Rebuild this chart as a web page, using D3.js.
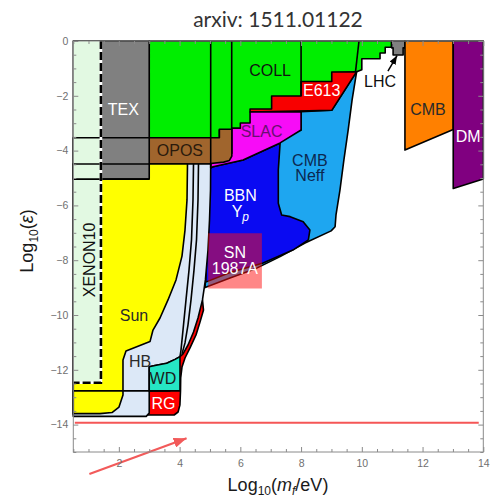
<!DOCTYPE html>
<html>
<head>
<meta charset="utf-8">
<script src="https://cdn.jsdelivr.net/npm/d3@7"></script>
<style>
  body { margin: 0; background: #fff; }
  svg { display: block; }
</style>
</head>
<body>
<div class="container"></div>
<script>
const w = 496;
const h = 500;
const margin = { top: 41, right: 12.7, bottom: 48, left: 73.3 };
const width = w - margin.left - margin.right;
const height = h - margin.top - margin.bottom;

// ticks
const xTickValues = [2, 4, 6, 8, 10, 12, 14];
const yTickValues = [0, -2, -4, -6, -8, -10, -12, -14];

// excluded regions, points are [log10(m/eV), log10(eps)]
const xenon10 = [[0.5, 0], [1.41, 0], [1.41, -12.47], [0.5, -12.47]];
const xenonEdge = [[1.41, 0], [1.41, -12.47], [0.5, -12.47]];
const tex = [[0.5, 0], [3.0, 0], [3.0, -5.04], [0.5, -5.04]];
const coll = [[3.0, 0], [10.98, 0], [10.98, -0.23], [10.77, -0.23], [10.77, -0.44], [10.6, -0.44], [10.6, -0.65],
  [10.0, -0.65], [10.0, -1.05], [9.83, -1.12], [9.01, -2.53], [8.0, -2.58], [8.0, -3.25], [5.31, -3.25],
  [5.31, -3.53], [3.0, -3.53]];
const cmbNeff = [[8.0, -2.58], [9.01, -2.53], [9.83, -1.12], [9.68, -2.15], [9.55, -3.25], [9.41, -4.34],
  [9.28, -5.44], [9.15, -6.35], [9.12, -6.78], [8.99, -6.93], [8.13, -7.37], [7.31, -7.87], [6.54, -8.29],
  [5.66, -8.65], [4.84, -9.0], [5.0, -4.64], [8.0, -3.25]];
const bbn = [[5.0, -4.64], [5.1, -4.59], [6.09, -4.34], [7.31, -3.72], [7.25, -4.71], [7.25, -5.92], [7.36, -6.35],
  [7.64, -6.41], [8.07, -6.6], [8.29, -6.9], [8.24, -7.26], [7.73, -7.63], [6.75, -8.1], [5.66, -8.45],
  [4.86, -8.8], [4.9, -7.6], [4.95, -6.5], [4.98, -5.4]];
const e613 = [[6.32, -2.48], [7.03, -2.48], [7.03, -2.01], [8.0, -2.01], [8.0, -1.48], [9.01, -1.48], [9.01, -1.13],
  [9.83, -1.12], [9.01, -2.53], [6.32, -2.59]];
const slac = [[5.72, -3.18], [6.0, -3.18], [6.0, -2.99], [6.32, -2.99], [6.32, -2.59], [8.0, -2.58], [8.0, -3.25],
  [7.31, -3.72], [6.09, -4.34], [5.1, -4.59], [5.02, -4.64], [5.02, -4.46], [5.72, -4.1]];
const opos = [[0.5, -3.53], [5.31, -3.53], [5.31, -3.22], [5.72, -3.22], [5.72, -4.2], [5.64, -4.36], [5.45, -4.42],
  [5.02, -4.47], [5.02, -4.49], [0.5, -4.49]];
const rg = [[0.5, -12.77], [3.68, -12.77], [3.9, -11.3], [4.5, -9.6], [4.753, -9.45], [4.787, -9.82], [4.672, -10.26],
  [4.54, -10.73], [4.343, -11.2], [4.178, -11.57], [4.079, -11.9], [4.036, -12.3], [4.03, -12.77], [4.01, -13.29],
  [3.95, -13.54], [3.82, -13.65], [0.5, -13.65]];
const hb = [[0.5, -13.7], [2.9, -13.7], [3.0, -13.58], [3.0, -11.89], [3.19, -11.84], [3.575, -11.76], [3.85, -11.62],
  [4.013, -11.52], [4.112, -11.42], [4.277, -11.095], [4.458, -10.62], [4.606, -10.11], [4.753, -9.45],
  [4.85, -8.72], [4.935, -7.63], [4.985, -6.53], [5.018, -5.44], [5.024, -4.49], [0.5, -4.49]];
const wd = [[3.0, -12.77], [4.013, -12.77], [4.013, -11.52], [3.85, -11.62], [3.575, -11.76], [3.19, -11.84], [3.0, -11.89]];
const sun = [[0.5, -4.49], [4.26, -4.49], [4.244, -5.8], [4.178, -6.9], [4.079, -7.85], [3.882, -8.72], [3.618, -9.45],
  [3.355, -10.11], [3.124, -10.55], [3.026, -10.97], [2.235, -11.31], [2.136, -11.64], [2.136, -12.92],
  [2.005, -13.36], [1.774, -13.56], [1.379, -13.6], [0.5, -13.6]];
const lhc = [[10.98, 0], [10.98, -0.25], [11.03, -0.25], [11.03, -0.51], [11.36, -0.51], [11.36, -0.25], [11.42, -0.25], [11.42, 0]];
const cmb = [[11.42, 0], [13.01, 0], [13.01, -3.23], [11.42, -3.98]];
const dm = [[13.01, 0], [14, 0], [14, -5.04], [13.01, -5.38]];
const sn = [[4.94, -7.02], [6.71, -7.02], [6.71, -9.03], [4.94, -9.03]];

const hbLine1 = [[4.458, -4.49], [4.441, -5.8], [4.392, -7.26], [4.31, -8.36], [4.211, -9.45], [4.112, -10.55], [4.046, -11.28], [4.013, -11.52]];
const hbLine2 = [[4.622, -4.49], [4.606, -5.8], [4.557, -7.26], [4.474, -8.36], [4.376, -9.45], [4.277, -10.36], [4.178, -11.02], [4.079, -11.42]];
const edgeLines = [
  [[0.5, -3.53], [3.0, -3.53]],
  [[0.5, -4.49], [3.0, -4.49]],
  [[0.5, -5.04], [3.0, -5.04]],
  [[0.5, -12.77], [3.0, -12.77]],
  [[5.024, 0], [5.024, -4.64]],
  [[5.716, 0], [5.716, -3.18]],
  [[8.0, 0], [8.0, -2.01]],
  [[9.907, 0], [9.792, -1.13]]
];

const redLine = [[0.55, -13.93], [13.85, -13.93]];
const redArrow = [[1.03, -15.8], [4.23, -14.5]];
const lhcArrow = [[10.86, -1.1], [11.16, -0.53]];

const labels = [
  { t: "TEX", at: [2.15, -2.49], c: "#fff" },
  { t: "COLL", at: [6.98, -1.05], c: "#111" },
  { t: "E613", at: [8.68, -1.8], c: "#fff" },
  { t: "SLAC", at: [6.7, -3.31], c: "#6a0f70" },
  { t: "OPOS", at: [4.01, -4.0], c: "#2a1a0c" },
  { t: "LHC", at: [10.6, -1.48], c: "#111" },
  { t: "CMB", at: [12.18, -2.48], c: "#2a2a2a" },
  { t: "DM", at: [13.5, -3.49], c: "#fff" },
  { t: "Sun", at: [2.5, -10.02], c: "#2a2a2a" },
  { t: "HB", at: [2.7, -11.68], c: "#2a2a2a" },
  { t: "WD", at: [3.45, -12.3], c: "#1a1a1a" },
  { t: "RG", at: [3.47, -13.22], c: "#fff" },
  { t: "BBN", at: [6.0, -5.62], c: "#fff" },
  { t: "CMB", at: [8.29, -4.34], c: "#0c2850" },
  { t: "Neff", at: [8.29, -4.91], c: "#0c2850" },
  { t: "SN", at: [5.82, -7.7], c: "#fff" },
  { t: "1987A", at: [5.82, -8.3], c: "#fff" }
];

const regions = [
  { pts: coll, fill: "#00ee00" },
  { pts: cmbNeff, fill: "#1ea6f0" },
  { pts: bbn, fill: "#0a0af2" },
  { pts: e613, fill: "#f80000" },
  { pts: slac, fill: "#f70cf7" },
  { pts: opos, fill: "#a0652d" },
  { pts: rg, fill: "#ff0000" },
  { pts: hb, fill: "#dce8f7" },
  { pts: wd, fill: "#26e6c4" },
  { pts: sun, fill: "#ffff00" },
  { pts: tex, fill: "#808080" },
  { pts: xenon10, fill: "#e2f9e2", stroke: "none" },
  { pts: lhc, fill: "#808080" },
  { pts: cmb, fill: "#ff8000" },
  { pts: dm, fill: "#800080" }
];

const font = "'Liberation Sans', Arial, sans-serif";

const svg = d3.select('.container').append('svg')
  .attr('width', w)
  .attr('height', h);

const defs = svg.append("defs");
defs.append("marker")
  .attr("id", "headRed")
  .attr("viewBox", "0 0 13 10")
  .attr("refX", 13).attr("refY", 5)
  .attr("markerWidth", 13).attr("markerHeight", 10)
  .attr("markerUnits", "userSpaceOnUse")
  .attr("orient", "auto")
  .append("path").attr("d", "M0,0L13,5L0,10Z").attr("fill", "#f25a5a");
defs.append("marker")
  .attr("id", "headBlack")
  .attr("viewBox", "0 0 9 7")
  .attr("refX", 9).attr("refY", 3.5)
  .attr("markerWidth", 9).attr("markerHeight", 7)
  .attr("markerUnits", "userSpaceOnUse")
  .attr("orient", "auto")
  .append("path").attr("d", "M0,0L9,3.5L0,7Z").attr("fill", "#000");

const chart = svg.append('g')
  .attr('transform', `translate(${margin.left}, ${margin.top})`);

const x = d3.scaleLinear().domain([0.5, 14]).range([0, width]);
const y = d3.scaleLinear().domain([-15, 0]).range([height, 0]);

const line = d3.line().x(d => x(d[0])).y(d => y(d[1]));

chart.append("g")
  .selectAll("path")
  .data(regions)
  .enter().append("path")
    .attr("d", d => line(d.pts) + "Z")
    .attr("fill", d => d.fill)
    .attr("stroke", d => d.stroke || "#000")
    .attr("stroke-width", 1.6)
    .attr("stroke-linejoin", "round");

chart.append("g")
  .selectAll("path")
  .data([hbLine1, hbLine2].concat(edgeLines))
  .enter().append("path")
    .attr("d", line)
    .attr("fill", "none")
    .attr("stroke", "#000")
    .attr("stroke-width", 1.6);

// SN 1987A, see-through
chart.append("path")
  .attr("d", line(sn) + "Z")
  .attr("fill", "#ff1010")
  .attr("fill-opacity", 0.5);

// XENON10 dashed edge
chart.append("path")
  .attr("d", line(xenonEdge))
  .attr("fill", "none")
  .attr("stroke", "#fff")
  .attr("stroke-width", 2.6);
chart.append("path")
  .attr("d", line(xenonEdge))
  .attr("fill", "none")
  .attr("stroke", "#000")
  .attr("stroke-width", 2.6)
  .attr("stroke-dasharray", "8,3");

chart.append("path")
  .attr("d", line(redLine))
  .attr("stroke", "#f55656")
  .attr("stroke-width", 2);

chart.append("path")
  .attr("d", line(redArrow))
  .attr("stroke", "#f25a5a")
  .attr("stroke-width", 2.2)
  .attr("marker-end", "url(#headRed)");

chart.append("path")
  .attr("d", line(lhcArrow))
  .attr("stroke", "#000")
  .attr("stroke-width", 1.5)
  .attr("marker-end", "url(#headBlack)");

// region labels
const lab = chart.append("g")
  .attr("font-family", font)
  .attr("font-size", 16)
  .attr("text-anchor", "middle");

lab.selectAll("text")
  .data(labels)
  .enter().append("text")
    .attr("x", d => x(d.at[0]))
    .attr("y", d => y(d.at[1]))
    .attr("dy", "0.36em")
    .attr("fill", d => d.c)
    .text(d => d.t);

const yp = lab.append("text")
  .attr("x", x(6.0))
  .attr("y", y(-6.2))
  .attr("dy", "0.36em")
  .attr("fill", "#fff");
yp.append("tspan").text("Y");
yp.append("tspan").attr("font-size", 12).attr("font-style", "italic").attr("dy", 4).text("p");

lab.append("text")
  .attr("transform", `translate(${x(1.03)}, ${y(-7.99)}) rotate(-90)`)
  .attr("dy", "0.36em")
  .attr("fill", "#111")
  .text("XENON10");

// frame and ticks
const xMinor = d3.range(0.5, 14.01, 0.5).filter(v => v % 2 !== 0);
const yMinor = d3.range(-15, 0.01, 0.5).filter(v => v % 2 !== 0);
const tickColor = "#8a8a8a";

function styleAxis(g) {
  g.select(".domain").remove();
  g.selectAll("line").attr("stroke", tickColor);
  g.selectAll("text").attr("fill", "#707070").attr("font-family", font).attr("font-size", 10.5);
}
const fmt = d => d < 0 ? "\u2212" + Math.abs(d) : String(d);

chart.append("g").attr("transform", `translate(0,${height})`)
  .call(d3.axisBottom(x).tickValues(xTickValues).tickSize(-5).tickPadding(8).tickFormat(fmt)).call(styleAxis);
chart.append("g").attr("transform", `translate(0,${height})`)
  .call(d3.axisBottom(x).tickValues(xMinor).tickSize(-3).tickFormat("")).call(styleAxis);
chart.append("g")
  .call(d3.axisTop(x).tickValues(xTickValues).tickSize(-5).tickFormat("")).call(styleAxis);
chart.append("g")
  .call(d3.axisTop(x).tickValues(xMinor).tickSize(-3).tickFormat("")).call(styleAxis);
chart.append("g")
  .call(d3.axisLeft(y).tickValues(yTickValues).tickSize(-5).tickPadding(5).tickFormat(fmt)).call(styleAxis);
chart.append("g")
  .call(d3.axisLeft(y).tickValues(yMinor).tickSize(-3).tickFormat("")).call(styleAxis);
chart.append("g").attr("transform", `translate(${width},0)`)
  .call(d3.axisRight(y).tickValues(yTickValues).tickSize(-5).tickFormat("")).call(styleAxis);
chart.append("g").attr("transform", `translate(${width},0)`)
  .call(d3.axisRight(y).tickValues(yMinor).tickSize(-3).tickFormat("")).call(styleAxis);

chart.append("rect")
  .attr("width", width)
  .attr("height", height)
  .attr("fill", "none")
  .attr("stroke", tickColor)
  .attr("stroke-width", 1);

// axis titles
const xt = svg.append("text")
  .attr("x", 278)
  .attr("y", 491)
  .attr("text-anchor", "middle")
  .attr("font-family", font)
  .attr("font-size", 18)
  .attr("fill", "#1a1a1a");
xt.append("tspan").text("Log");
xt.append("tspan").attr("font-size", 12).attr("dy", 4).text("10");
xt.append("tspan").attr("dy", -4).text("(");
xt.append("tspan").attr("font-style", "italic").text("m");
xt.append("tspan").attr("font-style", "italic").attr("font-size", 12).attr("dy", 4).text("f");
xt.append("tspan").attr("dy", -4).text("/eV)");

const yt = svg.append("text")
  .attr("transform", "translate(33,241) rotate(-90)")
  .attr("text-anchor", "middle")
  .attr("font-family", font)
  .attr("font-size", 18)
  .attr("fill", "#1a1a1a");
yt.append("tspan").text("Log");
yt.append("tspan").attr("font-size", 12).attr("dy", 5).text("10");
yt.append("tspan").attr("dy", -5).text("(");
yt.append("tspan").attr("font-style", "italic").text("\u03b5");
yt.append("tspan").text(")");

svg.append("text")
  .attr("x", 278)
  .attr("y", 27)
  .attr("text-anchor", "middle")
  .attr("font-family", "Lato, 'Open Sans', sans-serif")
  .attr("font-size", 21)
  .attr("fill", "#333")
  .text("arxiv: 1511.01122");
</script>
</body>
</html>
